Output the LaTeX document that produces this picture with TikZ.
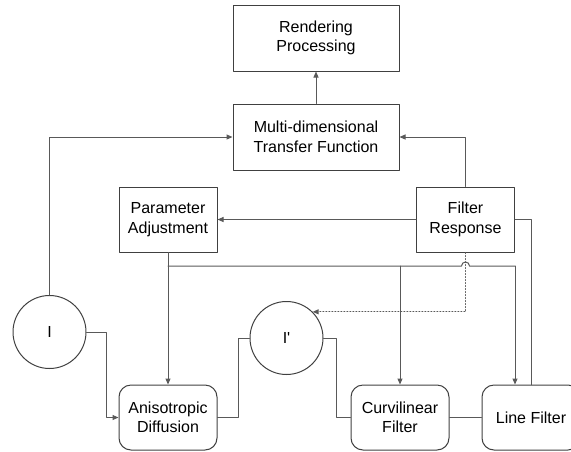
\documentclass[tikz,border=0pt]{standalone}
\usepackage{fontspec}
\setmainfont{Liberation Sans}
\usetikzlibrary{arrows.meta}
\tikzstyle{every node}=[font=\fontsize{16}{19.5}\selectfont,text=black]
\tikzstyle{every path}=[line width=1pt,line cap=round,line join=round]
\tikzstyle{block}=[draw=black!75,rectangle,align=center,inner sep=0pt,minimum width=98pt,minimum height=65pt]
\tikzstyle{wideblock}=[block,minimum width=166pt,minimum height=66pt]
\tikzstyle{filt}=[block,rounded corners=12pt]
\tikzstyle{img}=[draw=black!75,circle,inner sep=0pt,minimum size=73pt]
\tikzstyle{arr}=[-{Triangle[length=6pt,width=5pt]}]

\begin{document}
\begin{tikzpicture}[x=1pt,y=-1pt,color=black!65]
% Filter pipeline with feedback
	\useasboundingbox (0,0) rectangle (571,451);
	\newcommand\hopr{4} %radius of the hop on the bus
	\newcommand\busy{266} %height of the bus line
	\node[wideblock] (rend) at (316,38) {Rendering\\Processing};
	\node[wideblock] (mtf) at (316,137) {Multi-dimensional\\Transfer Function};
	\node[block] (param) at (168,219.5) {Parameter\\Adjustment};
	\node[block] (resp) at (465.5,219.5) {Filter\\Response};
	\node[img] (iin) at (49.5,332) {I};
	\node[img] (iout) at (286.5,338) {I\textquotesingle};
	\node[filt] (aniso) at (168,417.5) {Anisotropic\\Diffusion};
	\node[filt] (curv) at (400,417.5) {Curvilinear\\Filter};
	\node[filt] (line) at (531,417.5) {Line Filter};
	\draw[arr] (mtf) -- (rend);
	\draw[arr] (iin.north) |- (mtf.west);
	\draw[arr] (resp.north) |- (mtf.east);
	\draw[arr] (resp.west) -- (param.east);
	\draw (resp.east) -| (line.north);
	\draw[arr] (param.south) -- (aniso.north);
	\coordinate (busL) at (168,\busy); %% busL is where the bus leaves the Parameter line
	\coordinate (busC) at (400,\busy); %% busC is the branch down to the Curvilinear Filter
	\coordinate (busR) at (515,\busy); %% busR is the right end of the bus
	\draw (busL) -- ([xshift=-\hopr pt]resp.south |- busL) arc[start angle=180,end angle=360,radius=\hopr] -- (busR);
	\draw[arr] (busC) -- (curv.north);
	\draw[arr] (busR) -- (busR |- line.north);
	\draw[arr,dotted] (resp.south) |- (iout.45);
	\draw[arr] (iin.east) -- ++(20,0) |- (aniso.west);
	\draw (aniso.east) -- ++(21,0) |- (iout.west);
	\draw (iout.east) -- ++(13,0) |- (curv.west);
	\draw (curv.east) -- (line.west);
\end{tikzpicture}
\end{document}
